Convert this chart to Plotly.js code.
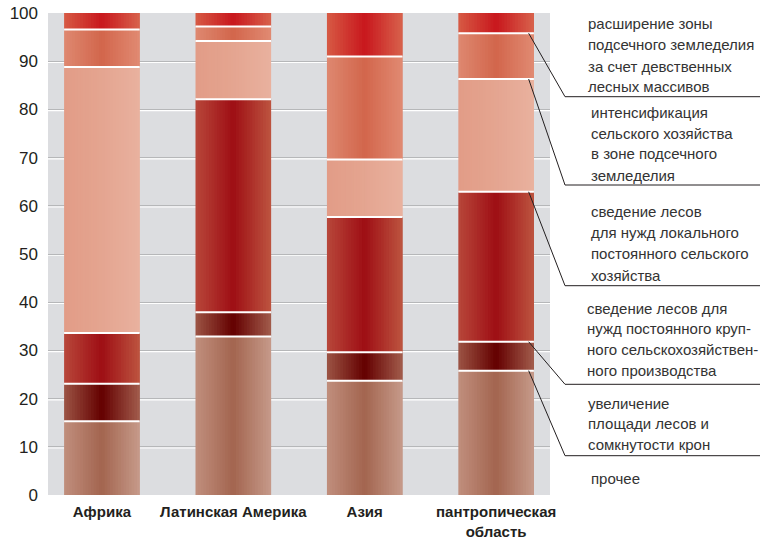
<!DOCTYPE html>
<html><head><meta charset="utf-8">
<script src="https://cdn.plot.ly/plotly-3.0.1.min.js"></script>
<style>html,body{margin:0;padding:0;background:#fff}#chart{width:760px;height:544px}</style>
</head><body><div id="chart"></div>
<script>
// ---- data ----
const categories = ['Африка', 'Латинская Америка', 'Азия', 'пантропическая область'];
const categoryLabels = ['Африка', 'Латинская Америка', 'Азия', 'пантропическая<br>область'];
const seriesNames = [
  'прочее',
  'увеличение площади лесов и сомкнутости крон',
  'сведение лесов для нужд постоянного крупного сельскохозяйственного производства',
  'сведение лесов для нужд локального постоянного сельского хозяйства',
  'интенсификация сельского хозяйства в зоне подсечного земледелия',
  'расширение зоны подсечного земледелия за счет девственных лесных массивов'
];
const other           = [15.3, 32.9, 23.7, 25.8];
const forestGain      = [7.8, 5.0, 5.9, 6.0];
const largeScaleAgri  = [10.5, 44.2, 28.1, 31.1];
const localAgri       = [55.2, 12.1, 11.9, 23.4];
const intensification = [7.8, 3.0, 21.4, 9.5];
const expansion       = [3.4, 2.8, 9.0, 4.2];
const legendLines = [
  ['прочее'],
  ['увеличение', 'площади лесов и', 'сомкнутости крон'],
  ['сведение лесов для', 'нужд постоянного круп-', 'ного сельскохозяйствен-', 'ного производства'],
  ['сведение лесов', 'для нужд локального', 'постоянного сельского', 'хозяйства'],
  ['интенсификация', 'сельского хозяйства', 'в зоне подсечного', 'земледелия'],
  ['расширение зоны', 'подсечного земледелия', 'за счет девственных', 'лесных массивов']
];
const yTickVals = [0, 10, 20, 30, 40, 50, 60, 70, 80, 90, 100];

// ---- styles ----
const series = [other, forestGain, largeScaleAgri, localAgri, intensification, expansion];
const gradients = [
  ['#c08e7d', '#a3654f', '#c69a8a'],
  ['#9c5444', '#640000', '#a25c4c'],
  ['#b8473a', '#9e0e14', '#bd5440'],
  ['#e29c87', '#e4a590', '#e9b19e'],
  ['#de8870', '#d2664c', '#e08a72'],
  ['#d65a44', '#c8171d', '#d8624c']
];
// legend label placement (pixel positions of lines, left x) per series
const legendX = [591, 588, 587, 591, 591, 588];
const legendY = [[478.3], [403.3, 423.3, 444], [308.3, 328.3, 349.3, 370], [211.7, 232.7, 253.3, 275], [112.7, 133.7, 154, 175], [23, 44, 66, 86]];
const leaderY = [null, 455.7, 384.3, 285.7, 185, 96.7];

const W = 0.575, N = 28;
const XMIN = -0.41, XMAX = 3.41;
const PL = 48, PR = 550, PT = 13, PB = 495;

function hex2rgb(h) { return [1, 3, 5].map(i => parseInt(h.substr(i, 2), 16)); }
function mix(a, b, t) { const A = hex2rgb(a), B = hex2rgb(b); return 'rgb(' + A.map((v, i) => Math.round(v + (B[i] - v) * t)).join(',') + ')'; }
function grad(g, t) { return t < 0.5 ? mix(g[0], g[1], t / 0.5) : mix(g[1], g[2], (t - 0.5) / 0.5); }

const traces = [];
const bases = [];
let cum = categories.map(() => 0);
series.forEach((vals, s) => {
  bases.push(cum.slice());
  const d = W / N;
  for (let i = 0; i < N; i++) {
    traces.push({
      type: 'bar', x: categories, y: vals, base: cum.slice(),
      offset: -W / 2 + i * d, width: i < N - 1 ? 2 * d : d,
      marker: { color: grad(gradients[s], (i + 0.5) / N), line: { width: 0 } },
      name: seriesNames[s], showlegend: false, hoverinfo: 'skip'
    });
  }
  cum = cum.map((c, j) => c + vals[j]);
});

const shapes = [];
// white groove lines under grey gridlines
yTickVals.forEach(t => {
  if (t > 0 && t < 100) shapes.push({ type: 'line', layer: 'between', xref: 'paper', yref: 'y', x0: 0, x1: 1, y0: t - 0.25, y1: t - 0.25, line: { color: '#ffffff', width: 1.2 } });
});
// white separators between segments
for (let s = 1; s < series.length; s++) {
  categories.forEach((c, j) => {
    const y = bases[s][j];
    shapes.push({ type: 'line', xref: 'x', yref: 'y', x0: j - W / 2, x1: j + W / 2, y0: y, y1: y, line: { color: '#ffffff', width: 2 } });
  });
}
// leader lines from pantropical bar to labels
const pj = categories.length - 1;
const px2paper = px => (px - PL) / (PR - PL);
const py2paper = py => (PB - py) / (PB - PT);
for (let s = 1; s < series.length; s++) {
  const yb = bases[s][pj];
  const xs = (pj + W / 2 - 0.04 - XMIN) / (XMAX - XMIN);
  const ye = py2paper(leaderY[s]);
  shapes.push({ type: 'line', xref: 'paper', yref: 'paper', x0: xs, y0: yb / 100, x1: px2paper(565), y1: ye, line: { color: '#231f20', width: 1 } });
  shapes.push({ type: 'line', xref: 'paper', yref: 'paper', x0: px2paper(565), y0: ye, x1: px2paper(762), y1: ye, line: { color: '#231f20', width: 1 } });
}

const LEGFONT = { family: 'Liberation Sans, Arial, sans-serif', size: 15, color: '#333333' };
const annotations = [];
legendLines.forEach((lines, s) => {
  lines.forEach((txt, k) => {
    annotations.push({ xref: 'paper', yref: 'paper', x: px2paper(legendX[s] - 2), y: py2paper(legendY[s][k]), xanchor: 'left', yanchor: 'middle', text: txt, showarrow: false, font: LEGFONT, align: 'left' });
  });
});

const layout = {
  width: 760, height: 544,
  margin: { l: PL, r: 760 - PR, t: PT, b: 544 - PB },
  paper_bgcolor: '#ffffff', plot_bgcolor: '#dcdde0',
  barmode: 'overlay', showlegend: false,
  xaxis: {
    type: 'category', categoryorder: 'array', categoryarray: categories,
    range: [XMIN, XMAX], tickvals: categories, ticktext: categoryLabels,
    showgrid: false, zeroline: false, showline: false, ticks: '', ticklabelstandoff: 6,
    tickfont: { family: 'Liberation Sans, Arial, sans-serif', size: 15, color: '#231f20', weight: 'bold' }
  },
  yaxis: {
    range: [0, 100], tickvals: yTickVals, showgrid: true, gridcolor: '#b6b7b9', gridwidth: 1,
    zeroline: false, showline: false, ticks: '', ticklabelstandoff: 9,
    tickfont: { family: 'Liberation Sans, Arial, sans-serif', size: 17, color: '#231f20' }
  },
  shapes: shapes, annotations: annotations
};
Plotly.newPlot('chart', traces, layout, { staticPlot: true, displayModeBar: false });
</script></body></html>
